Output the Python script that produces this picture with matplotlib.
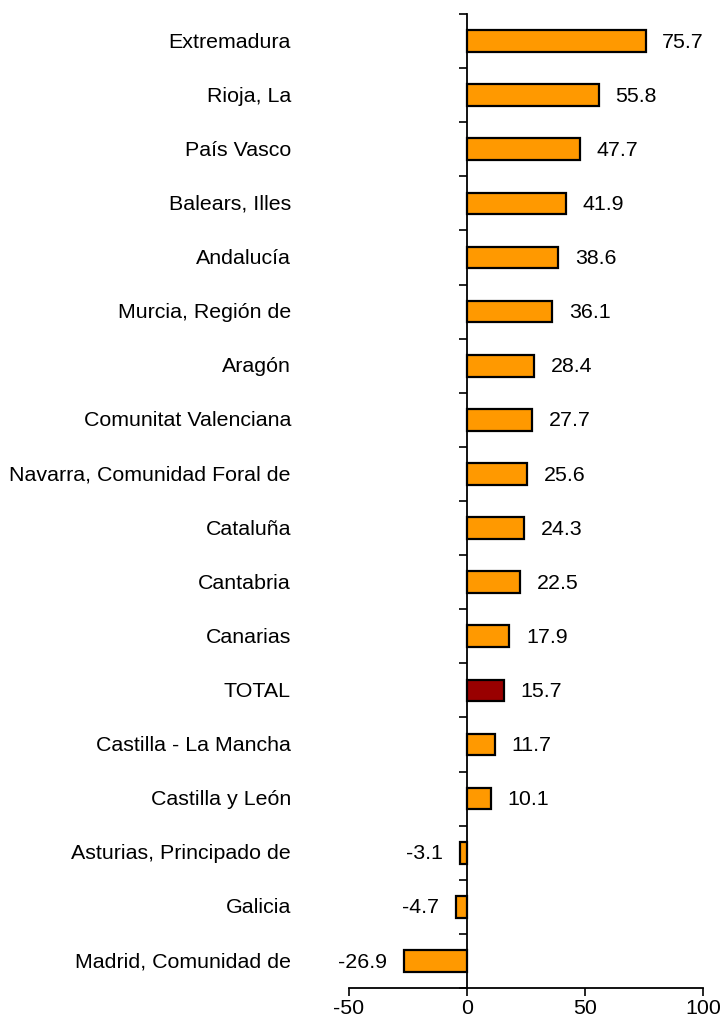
import matplotlib

matplotlib.use("Agg")
import matplotlib.pyplot as plt
import numpy as np

regions = [
    "Extremadura",
    "Rioja, La",
    "País Vasco",
    "Balears, Illes",
    "Andalucía",
    "Murcia, Región de",
    "Aragón",
    "Comunitat Valenciana",
    "Navarra, Comunidad Foral de",
    "Cataluña",
    "Cantabria",
    "Canarias",
    "TOTAL",
    "Castilla - La Mancha",
    "Castilla y León",
    "Asturias, Principado de",
    "Galicia",
    "Madrid, Comunidad de",
]
values = [75.7, 55.8, 47.7, 41.9, 38.6, 36.1, 28.4, 27.7, 25.6, 24.3,
          22.5, 17.9, 15.7, 11.7, 10.1, -3.1, -4.7, -26.9]
x_ticks = [-50, 0, 50, 100]

plt.rcParams["font.family"] = ["Liberation Sans", "DejaVu Sans"]
FS = 15.4

fig = plt.figure(figsize=(7.23, 10.21), dpi=100)
ax = fig.add_axes([349 / 723, 1 - 988 / 1021, (703 - 349) / 723, (988 - 14) / 1021])

n = len(regions)
y = np.arange(n)[::-1]
colors = ["#990000" if r == "TOTAL" else "#FF9900" for r in regions]
ax.barh(y, values, height=0.4, color=colors, edgecolor="black", linewidth=1.6, zorder=3)

ax.set_xlim(-50, 100)
ax.set_ylim(-0.5, n - 0.5)
ax.set_xticks(x_ticks)
ax.set_xticklabels([str(t) for t in x_ticks], fontsize=FS)
ax.tick_params(axis="x", direction="out", length=6, width=1.2, pad=2)

# y axis drawn at x = 0 with ticks between categories
for s in ["top", "right"]:
    ax.spines[s].set_visible(False)
ax.spines["left"].set_position(("data", 0))
ax.spines["left"].set_linewidth(1.3)
ax.spines["bottom"].set_linewidth(1.3)
ax.set_yticks(np.arange(n + 1) - 0.5)
ax.set_yticklabels([])
ax.tick_params(axis="y", direction="out", length=6, width=1.2)

trans = matplotlib.transforms.blended_transform_factory(ax.transAxes, ax.transData)
for yi, name in zip(y, regions):
    ax.text(-0.164, yi - 0.02, name, transform=trans, ha="right", va="center", fontsize=FS)

for yi, v in zip(y, values):
    if v >= 0:
        ax.annotate(f"{v:.1f}", (v, yi - 0.02), xytext=(12, 0), textcoords="offset points",
                    ha="left", va="center", fontsize=FS)
    else:
        ax.annotate(f"{v:.1f}", (v, yi - 0.02), xytext=(-12, 0), textcoords="offset points",
                    ha="right", va="center", fontsize=FS)

fig.savefig("out.png", dpi=100)
